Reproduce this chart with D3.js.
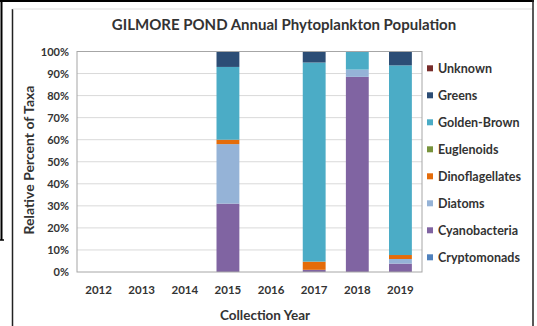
<!DOCTYPE html>
<html><head><meta charset="utf-8">
<script src="https://cdn.jsdelivr.net/npm/d3@7"></script>
<style>body{margin:0;background:#fff}svg{display:block}text{font-family:Lato,"Open Sans",sans-serif;font-weight:bold;fill:#333}</style>
</head><body><div id="c"></div>
<script>
const years = ["2012","2013","2014","2015","2016","2017","2018","2019"];
const taxa = ["Cryptomonads","Cyanobacteria","Diatoms","Dinoflagellates","Euglenoids","Golden-Brown","Greens","Unknown"];
const colors = ["#4F81BD","#8064A2","#95B3D7","#E46C0A","#77933C","#4BACC6","#2C4D75","#772C2A"];
const Cryptomonads   = [0,0,0,0,0,0,0,0];
const Cyanobacteria  = [0,0,0,31,0,1,88.5,3.8];
const Diatoms        = [0,0,0,27,0,0,3.3,2.1];
const Dinoflagellates= [0,0,0,2,0,3.7,0,1.8];
const Euglenoids     = [0,0,0,0,0,0,0,0];
const GoldenBrown    = [0,0,0,33,0,90.3,8.2,86];
const Greens         = [0,0,0,7,0,5,0,6.3];
const Unknown        = [0,0,0,0,0,0,0,0];
const yTicks = [0,10,20,30,40,50,60,70,80,90,100];
const series = [Cryptomonads,Cyanobacteria,Diatoms,Dinoflagellates,Euglenoids,GoldenBrown,Greens,Unknown];

const W=537,H=326;
const svg=d3.select("#c").append("svg").attr("width",W).attr("height",H);
// frames
svg.append("line").attr("x1",0).attr("x2",534).attr("y1",1).attr("y2",1).attr("stroke","#000").attr("stroke-width",2);
svg.append("line").attr("x1",1.5).attr("x2",1.5).attr("y1",0).attr("y2",240).attr("stroke","#000").attr("stroke-width",2);
svg.append("line").attr("x1",0).attr("x2",4).attr("y1",240).attr("y2",240).attr("stroke","#000").attr("stroke-width",1.5);
svg.append("line").attr("x1",12.5).attr("x2",12.5).attr("y1",9).attr("y2",326).attr("stroke","#222").attr("stroke-width",1.5);
svg.append("line").attr("x1",12.5).attr("x2",533).attr("y1",9).attr("y2",9).attr("stroke","#ddd").attr("stroke-width",1);
svg.append("line").attr("x1",533).attr("x2",533).attr("y1",0).attr("y2",326).attr("stroke","#222").attr("stroke-width",1.5);

const x=d3.scaleBand().domain(years).range([77,422]).paddingInner(0.47).paddingOuter(0.235);
const y=d3.scaleLinear().domain([0,100]).range([272,51.5]);

// grid
svg.append("g").selectAll("line").data(yTicks.slice(1)).join("line")
 .attr("x1",77).attr("x2",422).attr("y1",d=>y(d)).attr("y2",d=>y(d)).attr("stroke","#d9d9d9");

const data=years.map((yr,i)=>{const o={year:yr};taxa.forEach((t,j)=>o[t]=series[j][i]);return o;});
const stack=d3.stack().keys(taxa)(data);
svg.append("g").selectAll("g").data(stack).join("g").attr("fill",(d,i)=>colors[i])
 .selectAll("rect").data(d=>d).join("rect")
 .attr("x",d=>x(d.data.year)).attr("width",x.bandwidth())
 .attr("y",d=>y(d[1])).attr("height",d=>y(d[0])-y(d[1]));

svg.append("rect").attr("x",77).attr("y",51.5).attr("width",345).attr("height",220.5).attr("fill","none").attr("stroke","#a6a6a6");

// axes
const ya=svg.append("g").attr("transform","translate(77,0)").call(d3.axisLeft(y).tickValues(yTicks).tickFormat(d=>d+"%").tickSize(0).tickPadding(8));
ya.select(".domain").remove();
ya.selectAll("text").style("font-size","11px").style("font-family","Lato").attr("fill","#333");
const xa=svg.append("g").attr("transform","translate(0,272)").call(d3.axisBottom(x).tickSize(0).tickPadding(14));
xa.select(".domain").remove();
xa.selectAll("text").style("font-size","11.5px").style("font-family","Lato").attr("fill","#333");

svg.append("text").attr("x",284).attr("y",30).attr("text-anchor","middle").style("font-size","15px").text("GILMORE  POND Annual Phytoplankton Population");
svg.append("text").attr("x",265).attr("y",320).attr("text-anchor","middle").style("font-size","13.5px").text("Collection Year");
svg.append("text").attr("transform","translate(34,160) rotate(-90)").attr("text-anchor","middle").style("font-size","14px").text("Relative Percent of Taxa");

// legend
const leg=taxa.slice().reverse();
const lg=svg.append("g").selectAll("g").data(leg).join("g").attr("transform",(d,i)=>`translate(427,${68.3+i*27})`);
lg.append("rect").attr("x",0).attr("y",-3).attr("width",6).attr("height",6).attr("fill",d=>colors[taxa.indexOf(d)]);
lg.append("text").attr("x",11).attr("y",4.5).style("font-size","12.5px").text(d=>d);
</script></body></html>
